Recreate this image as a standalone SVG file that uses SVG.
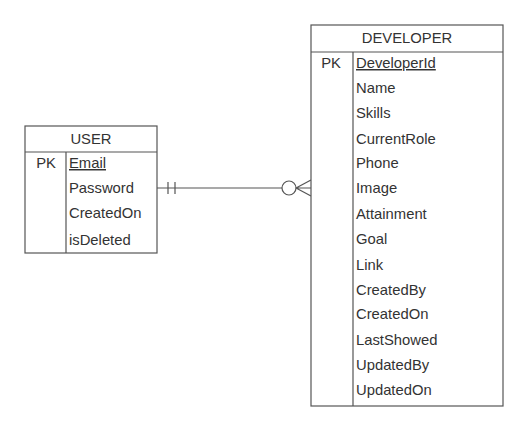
<svg xmlns="http://www.w3.org/2000/svg" width="521" height="422" viewBox="0 0 521 422">
<style>
.box{fill:#fff;stroke:#555;stroke-width:1.2}
.ln{stroke:#555;stroke-width:1.2;fill:none}
text{font-family:"Liberation Sans",Arial,sans-serif;font-size:14.8px;fill:#333}
.t{text-anchor:middle}
.pk{text-decoration:underline}
</style>
<rect width="521" height="422" fill="#fff"/>
<g id="connectors">
<path class="ln" d="M157 188 H282"/>
<path class="ln" d="M168 182 V194 M175 182 V194"/>
<circle class="ln" cx="289" cy="188" r="7" fill="#fff"/>
<path class="ln" d="M296 188 H311 M296 188 L311 180 M296 188 L311 196"/>
</g>
<g id="user">
<rect class="box" x="25" y="126" width="132" height="127"/>
<path class="ln" d="M25 152 H157 M66 152 V253"/>
<text class="t" x="91" y="144">USER</text>
<text class="t" x="46" y="168">PK</text>
<text class="pk" x="69" y="168">Email</text>
<text x="69" y="193">Password</text>
<text x="69" y="218">CreatedOn</text>
<text x="69" y="245">isDeleted</text>
</g>
<g id="developer">
<rect class="box" x="311" y="25" width="192" height="381"/>
<path class="ln" d="M311 52 H503 M353 52 V406"/>
<text class="t" x="407" y="43">DEVELOPER</text>
<text class="t" x="331" y="68">PK</text>
<text class="pk" x="356" y="68">DeveloperId</text>
<text x="356" y="93">Name</text>
<text x="356" y="118">Skills</text>
<text x="356" y="144">CurrentRole</text>
<text x="356" y="168">Phone</text>
<text x="356" y="193">Image</text>
<text x="356" y="219">Attainment</text>
<text x="356" y="244">Goal</text>
<text x="356" y="270">Link</text>
<text x="356" y="295">CreatedBy</text>
<text x="356" y="319">CreatedOn</text>
<text x="356" y="345">LastShowed</text>
<text x="356" y="370">UpdatedBy</text>
<text x="356" y="395">UpdatedOn</text>
</g>
</svg>
